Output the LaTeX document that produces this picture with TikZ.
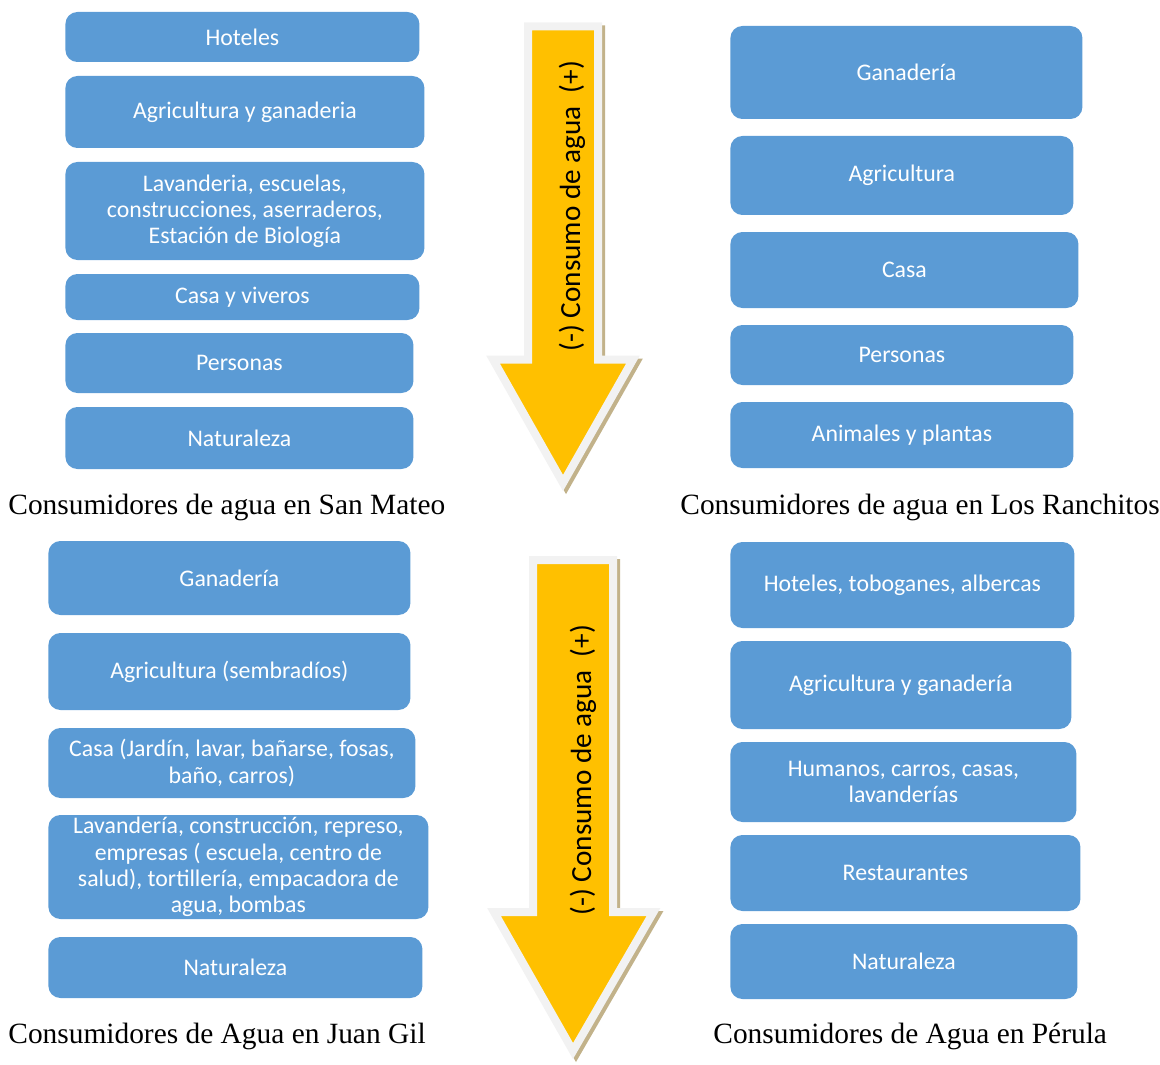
\documentclass[tikz,border=0pt]{standalone}
\usepackage{fontspec}
\setmainfont{Carlito}
\newfontfamily\serifcap{Liberation Serif}
\usepackage{tikz}
\usetikzlibrary{calc}
\usepackage{xcolor}
\definecolor{cajaazul}{HTML}{5B9BD5}
\definecolor{amarillo}{HTML}{FFC000}
\definecolor{borde}{HTML}{F2F2F2}
\definecolor{sombra}{HTML}{C2B28A}
\tikzstyle{caja}=[fill=cajaazul,rounded corners=6pt,text=white,align=center,anchor=west,inner sep=2pt,font=\fontsize{11.9}{13.1}\selectfont]
\tikzstyle{titulo}=[anchor=west,inner sep=0pt,font=\serifcap\fontsize{14.7}{16}\selectfont]
\tikzstyle{flecha}=[fill=amarillo,draw=borde,line width=4pt,miter limit=20]
\tikzstyle{flechasombra}=[fill=sombra,draw=sombra,line width=4pt,miter limit=20]
\tikzstyle{leyenda}=[rotate=90,inner sep=0pt,font=\fontsize{14.6}{16}\selectfont]

\begin{document}
\begin{tikzpicture}[x=0.5pt,y=-0.5pt]
    \useasboundingbox (0,0) rectangle (1160,1064);

    % flechas
    \draw[flechasombra] (531,29.5)--(601,29.5)--(601,362.5)--(636,362.5)--(566,486)--(496,362.5)--(531,362.5)--cycle;
    \filldraw[flecha] (528,26.5)--(598,26.5)--(598,359.5)--(633,359.5)--(563,483)--(493,359.5)--(528,359.5)--cycle;
    \node[leyenda] (c1) at (572,206) {(-) Consumo de agua\ \ (+)};

    \draw[flechasombra] (536,563)--(616,563)--(616,915)--(656.5,915)--(576,1054)--(497,915)--(536,915)--cycle;
    \filldraw[flecha] (533,560)--(613,560)--(613,912)--(653.5,912)--(573,1051)--(494,912)--(533,912)--cycle;
    \node[leyenda] (c2) at (583,770) {(-) Consumo de agua\ \ (+)};

    % San Mateo
    \node[caja,minimum width=177pt,minimum height=25pt] (sm1) at (65,37) {Hoteles};
    \node[caja,minimum width=179.5pt,minimum height=36pt] (sm2) at (65,112) {Agricultura y ganaderia};
    \node[caja,minimum width=179.5pt,minimum height=49pt] (sm3) at (65,211) {Lavanderia, escuelas,\\ construcciones, aserraderos,\\ Estación de Biología};
    \node[caja,minimum width=177pt,minimum height=23pt] (sm4) at (65,297) {Casa y viveros};
    \node[caja,minimum width=174pt,minimum height=30pt] (sm5) at (65,363) {Personas};
    \node[caja,minimum width=174pt,minimum height=31pt] (sm6) at (65,438) {Naturaleza};
    \node[titulo] (t1) at (8,507) {Consumidores de agua en San Mateo};

    % Los Ranchitos
    \node[caja,minimum width=176pt,minimum height=46.5pt] (lr1) at (730,72.5) {Ganadería};
    \node[caja,minimum width=171.5pt,minimum height=39.5pt] (lr2) at (730,175.5) {Agricultura};
    \node[caja,minimum width=174pt,minimum height=38pt] (lr3) at (730,270) {Casa};
    \node[caja,minimum width=171.5pt,minimum height=30pt] (lr4) at (730,355) {Personas};
    \node[caja,minimum width=171.5pt,minimum height=33pt] (lr5) at (730,435) {Animales y plantas};
    \node[titulo] (t2) at (680,507) {Consumidores de agua en Los Ranchitos};

    % Juan Gil
    \node[caja,minimum width=181pt,minimum height=37pt] (jg1) at (48,578) {Ganadería};
    \node[caja,minimum width=181pt,minimum height=38.5pt] (jg2) at (48,671.5) {Agricultura (sembradíos)};
    \node[caja,minimum width=183.5pt,minimum height=35pt] (jg3) at (48,763) {Casa (Jardín, lavar, bañarse, fosas,\\ baño, carros)};
    \node[caja,minimum width=190pt,minimum height=52pt,inner sep=0pt] (jg4) at (48,867) {Lavandería, construcción, represo,\\ empresas ( escuela, centro de\\ salud), tortillería, empacadora de\\ agua, bombas};
    \node[caja,minimum width=187pt,minimum height=30.5pt] (jg5) at (48,967.5) {Naturaleza};
    \node[titulo] (t3) at (8,1036) {Consumidores de Agua en Juan Gil};

    % Perula
    \node[caja,minimum width=172pt,minimum height=43pt] (pe1) at (730,585) {Hoteles, toboganes, albercas};
    \node[caja,minimum width=170.5pt,minimum height=44pt] (pe2) at (730,685) {Agricultura y ganadería};
    \node[caja,minimum width=173pt,minimum height=40pt] (pe3) at (730,782) {Humanos, carros, casas,\\ lavanderías};
    \node[caja,minimum width=175pt,minimum height=38pt] (pe4) at (730,873) {Restaurantes};
    \node[caja,minimum width=173.5pt,minimum height=37.5pt] (pe5) at (730,961.5) {Naturaleza};
    \node[titulo] (t4) at (713,1036) {Consumidores de Agua en Pérula};

\end{tikzpicture}
\end{document}
